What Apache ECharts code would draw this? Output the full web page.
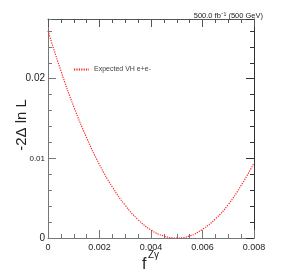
<!DOCTYPE html>
<html><head><meta charset="utf-8">
<script src="https://cdn.jsdelivr.net/npm/echarts@6/dist/echarts.min.js"></script>
<style>html,body{margin:0;padding:0;background:#fff}#c{width:283px;height:274px}</style>
</head><body><div id="c"></div>
<script>
const xValues = [0, 0.0005, 0.001, 0.0015, 0.002, 0.0025, 0.003, 0.0035, 0.004, 0.0045, 0.005, 0.0055, 0.006, 0.0065, 0.007, 0.0075, 0.008];
const yValues = [0.0260, 0.0210, 0.0165, 0.0126, 0.0092, 0.0064, 0.0041, 0.0023, 0.0010, 0.00025, 0.0, 0.00026, 0.0011, 0.0024, 0.0042, 0.0066, 0.0094];
const seriesName = 'Expected VH e+e-';
const lumiText = '500.0 fb\u207B\u00B9 (500 GeV)';
const yTitle = '-2\u0394 ln L';
const xTitleMain = 'f';
const xTitleSup = 'Z\u03B3';

const chart = echarts.init(document.getElementById('c'), null, {renderer: 'canvas'});
const X = {min: 0, max: 0.008};
const Y = {min: 0, max: 0.0275};
const font = 'Liberation Sans, Arial, sans-serif';
const red = '#ff2020';
function xAx(pos, labels, color){
  return {type: 'value', position: pos, min: X.min, max: X.max, interval: 0.002,
    axisLine: {show: true, onZero: false, lineStyle: {color: color, width: 1}},
    axisTick: {show: true, inside: true, length: 8, lineStyle: {color: color}},
    minorTick: {show: true, splitNumber: 4, length: 4, lineStyle: {color: color}},
    splitLine: {show: false}, minorSplitLine: {show: false},
    axisLabel: {show: labels, margin: 5, fontSize: 9, color: '#222', fontFamily: font,
      formatter: v => v === 0 ? '0' : v.toFixed(3)}};
}
function yAx(pos, interval, len, labels, color, showLine){
  return {type: 'value', position: pos, min: Y.min, max: Y.max, interval: interval,
    axisLine: {show: showLine, onZero: false, lineStyle: {color: color, width: 1}},
    axisTick: {show: true, inside: true, length: len, lineStyle: {color: color}},
    splitLine: {show: false},
    axisLabel: {show: labels, margin: 3, color: '#222', fontFamily: font, showMaxLabel: false,
      formatter: v => {
        if (Math.abs(v) < 1e-12) return '{a|0}';
        const r = Math.round(v * 100) / 100;
        if (Math.abs(r - v) > 1e-9) return '';
        return r === 0.01 ? '{b|0.01}' : '{a|' + r.toFixed(2) + '}';
      },
      rich: {a: {fontSize: 10, color: '#222', fontFamily: font}, b: {fontSize: 8, color: '#222', fontFamily: font}}}};
}
chart.setOption({
  animation: false,
  color: [red],
  grid: {left: 48, right: 29, top: 19, bottom: 36},
  title: {text: lumiText, right: 15, top: 7, textStyle: {fontSize: 7.5, fontWeight: 'normal', color: '#222', fontFamily: font}},
  legend: {left: 73, top: 66, padding: 0, itemWidth: 15, itemHeight: 5, itemGap: 5,
    itemStyle: {opacity: 0},
    textStyle: {fontSize: 7, color: '#444', fontFamily: font}, data: [seriesName]},
  xAxis: [xAx('bottom', true, '#777'), xAx('top', false, '#555')],
  yAxis: [yAx('left', 0.01, 8, true, '#777', true), yAx('left', 0.002, 4, false, '#777', false),
          yAx('right', 0.01, 8, false, '#333', true), yAx('right', 0.002, 4, false, '#333', false)],
  series: [{name: seriesName, type: 'line', smooth: true, symbol: 'none', xAxisIndex: 0, yAxisIndex: 0,
    color: red,
    lineStyle: {color: red, width: 1.2, type: [1.2, 1.2]}, itemStyle: {color: red},
    data: xValues.map((x, i) => [x, yValues[i]])}],
  graphic: [
    {type: 'text', x: 22, y: 125, rotation: Math.PI / 2, style: {text: yTitle, fontSize: 15, fill: '#222', fontFamily: font, textAlign: 'center', textVerticalAlign: 'middle'}},
    {type: 'text', x: 142, y: 257, style: {text: xTitleMain, fontSize: 16, fill: '#222', fontFamily: font}},
    {type: 'text', x: 148, y: 250, style: {text: xTitleSup, fontSize: 10, fill: '#222', fontFamily: font}}
  ]
});
</script></body></html>
